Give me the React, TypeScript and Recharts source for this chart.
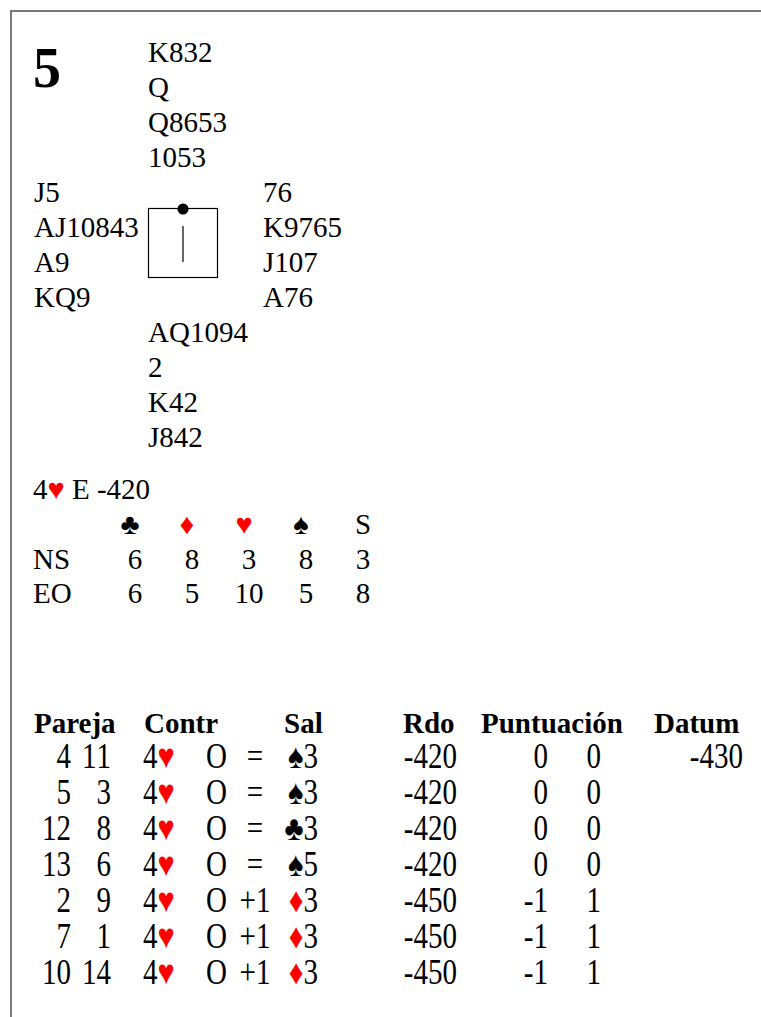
import React from "react";
import { ScatterChart, Scatter, XAxis, YAxis } from "recharts";

// board 5 - hand record
const BOARD = "5";
const NORTH = ["K832", "Q", "Q8653", "1053"];
const WEST = ["J5", "AJ10843", "A9", "KQ9"];
const EAST = ["76", "K9765", "J107", "A76"];
const SOUTH = ["AQ1094", "2", "K42", "J842"];

const PAR_CONTRACT = "4♥";
const PAR_REST = "E -420";

// double dummy tricks
const DENOMS = ["♣", "♦", "♥", "♠", "S"];
const SIDES = ["NS", "EO"];
const TRICKS_NS = [6, 8, 3, 8, 3];
const TRICKS_EO = [6, 5, 10, 5, 8];

// results
const HEADERS = ["Pareja", "Contr", "Sal", "Rdo", "Puntuación", "Datum"];
const PAIR_NS = [4, 5, 12, 13, 2, 7, 10];
const PAIR_EO = [11, 3, 8, 6, 9, 1, 14];
const CONTRACT = ["4♥", "4♥", "4♥", "4♥", "4♥", "4♥", "4♥"];
const DECLARER = ["O", "O", "O", "O", "O", "O", "O"];
const RESULT = ["=", "=", "=", "=", "+1", "+1", "+1"];
const LEAD = ["♠3", "♠3", "♣3", "♠5", "♦3", "♦3", "♦3"];
const SCORE = [-420, -420, -420, -420, -450, -450, -450];
const PTS_NS = [0, 0, 0, 0, -1, -1, -1];
const PTS_EO = [0, 0, 0, 0, 1, 1, 1];
const DATUM = [-430];

const SERIF = "Liberation Serif";
const FS = 29;
const STRETCH = 1.2;
const isSuit = (ch: string) => "♠♣♥♦".includes(ch);
const suitColor = (s: string) => (s === "♥" || s === "♦" ? "#ff0000" : "#000000");

// text with coloured suit symbols
const Cards = ({ s }: { s: string }) => (
  <>
    {Array.from(s).map((ch, i) =>
      isSuit(ch) ? (
        <tspan key={i} fill={suitColor(ch)}>
          {ch}
        </tspan>
      ) : (
        <tspan key={i}>{ch}</tspan>
      )
    )}
  </>
);

// column layout of the results table (page x)
const HEADER_X = [34, 144, 284, 403, 481, 654];
type Col = { values: (string | number)[]; x: number; anchor: "start" | "middle" | "end" };
const COLS: Col[] = [
  { values: PAIR_NS, x: 71, anchor: "end" },
  { values: PAIR_EO, x: 111, anchor: "end" },
  { values: CONTRACT, x: 143, anchor: "start" },
  { values: DECLARER, x: 206, anchor: "start" },
  { values: RESULT, x: 255, anchor: "middle" },
  { values: LEAD, x: 318, anchor: "end" },
  { values: SCORE, x: 457, anchor: "end" },
  { values: PTS_NS, x: 548, anchor: "end" },
  { values: PTS_EO, x: 601, anchor: "end" },
  { values: DATUM, x: 743, anchor: "end" },
];

const renderCell = (col: Col) => (props: any) => {
  const { cx, cy, payload } = props;
  return (
    <g transform={`translate(${cx} ${cy}) scale(1 ${STRETCH})`}>
      <text x={0} y={9.8} textAnchor={col.anchor} fontFamily={SERIF} fontSize={FS} fill="#000">
        <Cards s={String(payload.v)} />
      </text>
    </g>
  );
};

const HeaderTick = ({ x, payload }: any) => {
  const i = HEADER_X.indexOf(payload.value);
  return (
    <text x={x} y={733} textAnchor="start" fontFamily={SERIF} fontSize={FS} fontWeight="bold" fill="#000">
      {HEADERS[i]}
    </text>
  );
};

const DenomTick = ({ x, payload }: any) => {
  const d = DENOMS[payload.value];
  return (
    <text
      x={d === "S" ? x : x - 5}
      y={534}
      textAnchor="middle"
      fontFamily={SERIF}
      fontSize={FS}
      fill={suitColor(d)}
    >
      {d}
    </text>
  );
};

const SideTick = ({ y, payload }: any) => (
  <text x={33} y={y + 10} textAnchor="start" fontFamily={SERIF} fontSize={FS} fill="#000">
    {SIDES[payload.value]}
  </text>
);

const TrickCell = (props: any) => {
  const { cx, cy, payload } = props;
  return (
    <text x={cx} y={cy + 10} textAnchor="middle" fontFamily={SERIF} fontSize={FS} fill="#000">
      {payload.v}
    </text>
  );
};

const Hand = ({ cards, x, first }: { cards: string[]; x: number; first: number }) => (
  <>
    {cards.map((c, i) => (
      <text key={i} x={x} y={first + i * 35 + 9.8} fontFamily={SERIF} fontSize={FS} fill="#000">
        {c}
      </text>
    ))}
  </>
);

const abs: React.CSSProperties = { position: "absolute", left: 0, top: 0 };

export default function App() {
  const trickRows = [TRICKS_NS, TRICKS_EO];
  return (
    <div style={{ ...abs, width: 761, height: 1017, background: "#fff", overflow: "hidden" }}>
      <div
        style={{
          position: "absolute",
          left: 10,
          top: 10,
          width: 760,
          height: 1020,
          borderTop: "2px solid #7a7a7a",
          borderLeft: "2px solid #7a7a7a",
        }}
      />
      <svg style={abs} width={761} height={1017}>
        <text x={33} y={87} fontFamily={SERIF} fontSize={56} fontWeight="bold" fill="#000">
          {BOARD}
        </text>
        <Hand cards={NORTH} x={148} first={52} />
        <Hand cards={WEST} x={34} first={192} />
        <Hand cards={EAST} x={263} first={192} />
        <Hand cards={SOUTH} x={148} first={332} />
        <rect x={148.5} y={208.5} width={69} height={69} fill="none" stroke="#000" strokeWidth={1.2} />
        <line x1={183} y1={226} x2={183} y2={262} stroke="#000" strokeWidth={1.2} />
        <circle cx={183} cy={209} r={5.5} fill="#000" />
        <text x={33} y={499} fontFamily={SERIF} fontSize={FS} fill="#000">
          <Cards s={PAR_CONTRACT} /> {PAR_REST}
        </text>
      </svg>

      <div style={abs}>
        <ScatterChart width={392} height={610} margin={{ top: 512, right: 0.5, bottom: 0, left: 35 }}>
          <XAxis
            type="number"
            dataKey="x"
            orientation="top"
            domain={[-0.5, 4.5]}
            ticks={[0, 1, 2, 3, 4]}
            interval={0}
            height={30}
            axisLine={false}
            tickLine={false}
            tick={<DenomTick />}
          />
          <YAxis
            type="number"
            dataKey="y"
            domain={[-0.5, 1.5]}
            reversed
            ticks={[0, 1]}
            interval={0}
            width={71.5}
            axisLine={false}
            tickLine={false}
            tick={<SideTick />}
          />
          {trickRows.map((row, r) => (
            <Scatter
              key={r}
              data={row.map((v, i) => ({ x: i, y: r, v }))}
              shape={TrickCell}
              isAnimationActive={false}
            />
          ))}
        </ScatterChart>
      </div>

      <div style={abs}>
        <ScatterChart width={761} height={1017} margin={{ top: 708, right: 0, bottom: 27, left: 0 }}>
          <XAxis
            type="number"
            dataKey="x"
            orientation="top"
            domain={[0, 761]}
            ticks={HEADER_X}
            interval={0}
            height={30}
            axisLine={false}
            tickLine={false}
            tick={<HeaderTick />}
          />
          <YAxis type="number" dataKey="y" domain={[-0.5, 6.5]} reversed hide />
          {COLS.map((col, c) => (
            <Scatter
              key={c}
              data={col.values.map((v, i) => ({ x: col.x, y: i, v }))}
              shape={renderCell(col)}
              isAnimationActive={false}
            />
          ))}
        </ScatterChart>
      </div>
    </div>
  );
}
